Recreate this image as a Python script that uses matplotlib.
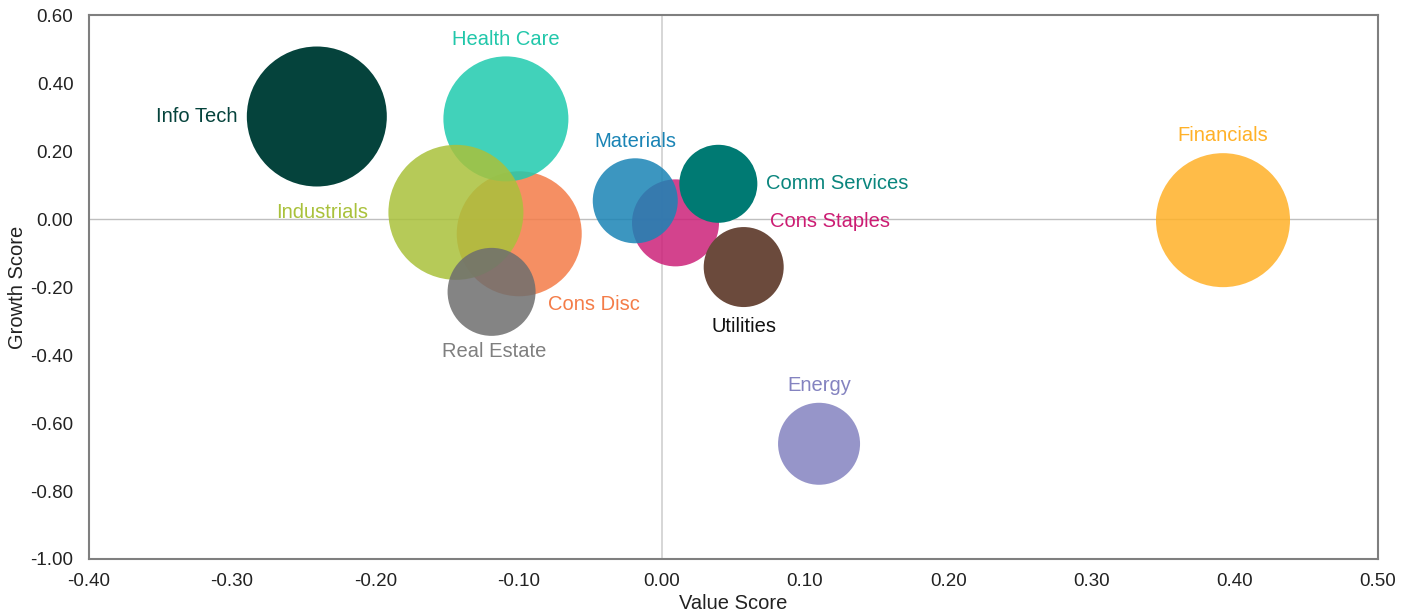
import matplotlib.pyplot as plt
import numpy as np

plt.rcParams['font.family'] = ['Liberation Sans', 'DejaVu Sans']

# sektory i wartosci
sektory = ['Cons Disc', 'Cons Staples', 'Health Care', 'Industrials', 'Real Estate',
           'Materials', 'Comm Services', 'Info Tech', 'Utilities', 'Energy', 'Financials']
value_score = [-0.0995, 0.0096, -0.1088, -0.1437, -0.1188, -0.0185, 0.0395, -0.2408, 0.0572, 0.1098, 0.3918]
growth_score = [-0.043, -0.011, 0.295, 0.020, -0.214, 0.054, 0.104, 0.302, -0.141, -0.661, -0.003]
rozmiar = [62.5, 43.5, 62.5, 67.5, 44, 42.5, 39, 70, 40, 41, 67]
kolory = ['#F47C48', '#CC2279', '#1FCBAE', '#A9C13B', '#6E6E6E', '#1A84B5',
          '#007A73', '#05433C', '#6B4A3C', '#8483C0', '#FFB128']

# pozycje etykiet wzgledem srodka babelka (punkty) i wyrownanie
etykiety_dx = [21, 68, 0, -63, 2, 0, 34, -57, 0, 0, 0]
etykiety_dy = [-51, 1, 57, 0, -43, 43, 0, 0, -43, 42, 61]
etykiety_ha = ['left', 'left', 'center', 'right', 'center', 'center', 'left', 'right', 'center', 'center', 'center']
kolory_etykiet = ['#F47C48', '#CC1C73', '#21C7AA', '#A9C13B', '#7F7F7F', '#1A84B5',
                  '#0A857D', '#05433C', '#111111', '#8483C0', '#FFB128']

x_ticki = np.round(np.arange(-0.40, 0.501, 0.10), 2)
y_ticki = np.round(np.arange(-1.00, 0.601, 0.20), 2)

fig = plt.figure(figsize=(14.09, 6.14), dpi=100)
ax = fig.add_axes([0.063, 0.0896, 0.915, 0.8856])

ax.axhline(0, color='#BFBFBF', lw=1, zorder=0)
ax.axvline(0, color='#D0D0D0', lw=1.2, zorder=0)

for i in range(len(sektory)):
    s = (1.44 * rozmiar[i]) ** 2
    alfa = 1.0 if sektory[i] in ('Info Tech', 'Comm Services', 'Utilities') else 0.85
    ax.scatter(value_score[i], growth_score[i], s=s, color=kolory[i], alpha=alfa,
               edgecolors='none', zorder=2)
    ax.annotate(sektory[i], (value_score[i], growth_score[i]),
                xytext=(etykiety_dx[i], etykiety_dy[i]), textcoords='offset points',
                ha=etykiety_ha[i], va='center', fontsize=14.5, color=kolory_etykiet[i], zorder=3)

ax.set_xlim(-0.40, 0.50)
ax.set_ylim(-1.00, 0.60)
ax.set_xticks(x_ticki)
ax.set_yticks(y_ticki)
ax.set_xticklabels(['%.2f' % (v + 0.0) for v in x_ticki])
ax.set_yticklabels(['%.2f' % (v + 0.0) for v in y_ticki])
ax.tick_params(length=0, labelsize=13.5, colors='#222222')
ax.tick_params(axis='y', pad=11)
ax.tick_params(axis='x', pad=10)
for sp in ax.spines.values():
    sp.set_color('#7F7F7F')
    sp.set_linewidth(1.5)

ax.set_xlabel('Value Score', fontsize=14.5, color='#222222', labelpad=3)
ax.set_ylabel('Growth Score', fontsize=14.5, color='#222222')
ax.yaxis.set_label_coords(-0.0482, 0.5)

plt.savefig('out.png', dpi=100)
